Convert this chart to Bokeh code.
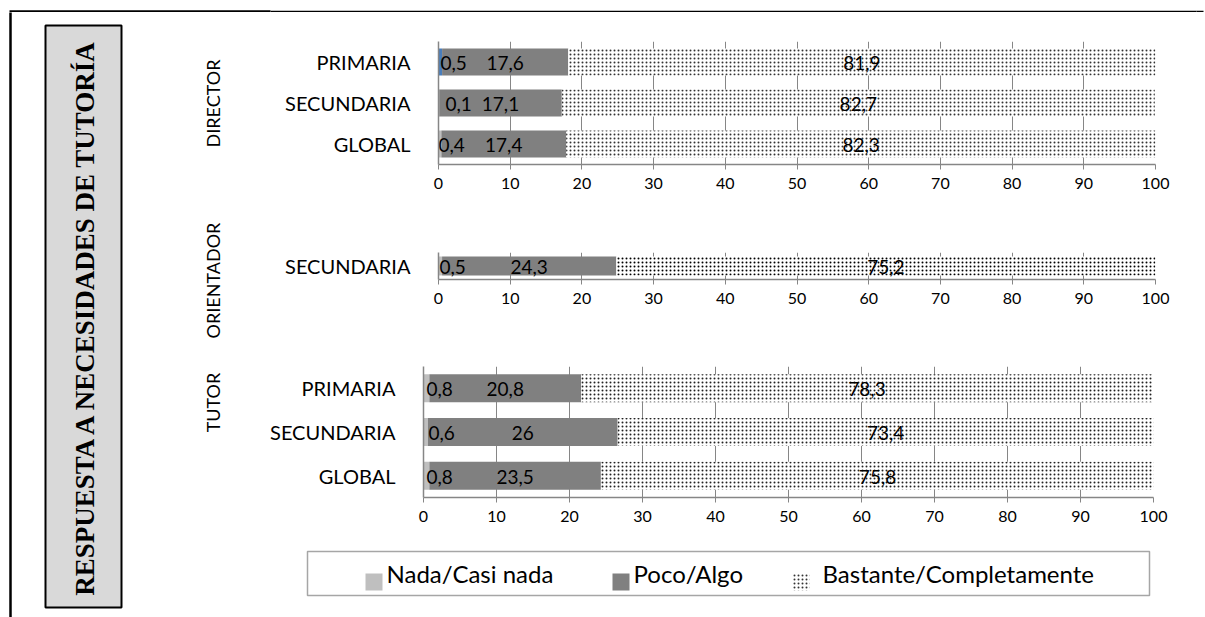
import numpy as np
from bokeh.plotting import figure
from bokeh.models import Range1d, FactorRange, FixedTicker, ColumnDataSource
from bokeh.layouts import column, row
from bokeh.embed import file_html
from bokeh.resources import INLINE
from bokeh.core.properties import value

# ---- data -----------------------------------------------------------------
title_text = "RESPUESTA A NECESIDADES DE TUTORÍA"
group_names = ["DIRECTOR", "ORIENTADOR", "TUTOR"]
series_names = ["Nada/Casi nada", "Poco/Algo", "Bastante/Completamente"]
x_ticks = [0, 10, 20, 30, 40, 50, 60, 70, 80, 90, 100]

dir_levels = ["PRIMARIA", "SECUNDARIA", "GLOBAL"]
dir_nada = [0.5, 0.1, 0.4]
dir_poco = [17.6, 17.1, 17.4]
dir_bast = [81.9, 82.7, 82.3]

ori_levels = ["SECUNDARIA"]
ori_nada = [0.5]
ori_poco = [24.3]
ori_bast = [75.2]

tut_levels = ["PRIMARIA", "SECUNDARIA", "GLOBAL"]
tut_nada = [0.8, 0.6, 0.8]
tut_poco = [20.8, 26.0, 23.5]
tut_bast = [78.3, 73.4, 75.8]

# ---- styling --------------------------------------------------------------
SANS = "Lato"
NADA_COLOR = "#bfbfbf"
POCO_COLOR = "#808080"
AXIS_COLOR = "#868686"
W, H = 1205, 617
LEFT_W = 248


def fmt(v):
    return f"{v:g}".replace(".", ",")


def bar_chart(levels, nada, poco, bast, nada_colors, nada_dx, fig_h,
              b_left, b_right, b_top, b_bottom, bar_h, dots):
    nada = np.asarray(nada, dtype=float)
    poco = np.asarray(poco, dtype=float)
    bast = np.asarray(bast, dtype=float)
    n1 = nada
    p1 = nada + poco
    b1 = nada + poco + bast

    p = figure(width=W - LEFT_W, height=fig_h,
               y_range=FactorRange(factors=list(levels)[::-1]),
               x_range=Range1d(0, 100),
               output_backend="svg", toolbar_location=None,
               min_border_left=b_left, min_border_right=b_right,
               min_border_top=b_top, min_border_bottom=b_bottom)
    p.frame_align = False
    p.outline_line_color = None
    p.background_fill_color = "white"
    p.border_fill_color = "white"

    src = ColumnDataSource(dict(
        cat=list(levels), n1=n1, p1=p1, b1=b1, ncol=list(nada_colors),
        pmid=(n1 + p1) / 2, bmid=(p1 + b1) / 2,
        nlab=[fmt(v) for v in nada], plab=[fmt(v) for v in poco],
        blab=[fmt(v) for v in bast], ndx=list(nada_dx),
        zero=[0.0] * len(levels),
    ))

    p.hbar(y="cat", left="zero", right="n1", height=bar_h, fill_color="ncol",
           line_color=None, source=src)
    p.hbar(y="cat", left="n1", right="p1", height=bar_h, fill_color=POCO_COLOR,
           line_color=None, source=src)
    p.hbar(y="cat", left="p1", right="b1", height=bar_h, fill_color="white",
           hatch_pattern=".", hatch_color=dots[0], hatch_scale=dots[1],
           hatch_weight=dots[2], line_color=None, source=src)

    lab = dict(text_font=value(SANS), text_font_size=value("19px"),
               text_color="black", text_baseline="middle", y_offset=1, source=src)
    p.text(x="zero", y="cat", text="nlab", x_offset="ndx", text_align="left", **lab)
    p.text(x="pmid", y="cat", text="plab", text_align="center", **lab)
    p.text(x="bmid", y="cat", text="blab", text_align="center", **lab)

    ticker = FixedTicker(ticks=x_ticks)
    xa = p.xaxis[0]
    xa.ticker = ticker
    xa.axis_line_color = AXIS_COLOR
    xa.axis_line_width = 1.5
    xa.major_tick_line_color = AXIS_COLOR
    xa.major_tick_out = 5
    xa.major_tick_in = 0
    xa.minor_tick_line_color = None
    xa.major_label_text_font = SANS
    xa.major_label_text_font_size = "16px"
    xa.major_label_text_color = "black"
    xa.major_label_standoff = 8

    ya = p.yaxis[0]
    ya.axis_line_color = AXIS_COLOR
    ya.axis_line_width = 1.5
    ya.major_tick_line_color = None
    ya.minor_tick_line_color = None
    ya.major_label_text_font = SANS
    ya.major_label_text_font_size = "20px"
    ya.major_label_text_color = "black"
    ya.major_label_standoff = 22

    p.ygrid.grid_line_color = None
    p.xgrid.ticker = ticker
    p.xgrid.grid_line_color = AXIS_COLOR
    p.xgrid.grid_line_width = 1
    return p


def canvas(w, h, x0, x1, y_top, y_bot):
    c = figure(width=w, height=h, x_range=Range1d(x0, x1),
               y_range=Range1d(y_bot, y_top), output_backend="svg",
               toolbar_location=None, x_axis_type=None, y_axis_type=None,
               min_border=0)
    c.frame_align = False
    c.min_border_left = c.min_border_right = 0
    c.min_border_top = c.min_border_bottom = 0
    c.outline_line_color = None
    c.grid.visible = False
    c.background_fill_color = "white"
    c.border_fill_color = "white"
    return c


# ---- frame line across the top --------------------------------------------
top = canvas(W, 12, 0, W, 0, 12)
top.segment(x0=[9], y0=[11], x1=[270], y1=[11], line_color="black", line_width=2.5)
top.segment(x0=[270], y0=[11], x1=[1196], y1=[11], line_color="black", line_width=1.3)
top.segment(x0=[1196], y0=[11.5], x1=[1203], y1=[11.5], line_color="black", line_width=2.5)

# ---- left panel: frame, boxed title, group names ---------------------------
left = canvas(LEFT_W, H - 12, 0, LEFT_W, 12, H)
left.segment(x0=[10], y0=[10], x1=[10], y1=[H + 2], line_color="black", line_width=2.5)
left.quad(left=[45], right=[121], top=[25], bottom=[607], fill_color="#d9d9d9",
          line_color="black", line_width=2)
left.text(x=[84], y=[316], text=[title_text], angle=np.pi / 2,
          text_align="center", text_baseline="middle",
          text_font=value("Liberation Serif"), text_font_style="bold",
          text_font_size=value("27px"), text_color="black")
left.text(x=[212, 212, 212], y=[103, 280, 402], text=group_names, angle=np.pi / 2,
          text_align="center", text_baseline="middle", text_font=value(SANS),
          text_font_size=value("18px"), text_color="black")

# ---- the three bar charts --------------------------------------------------
p_dir = bar_chart(dir_levels, dir_nada, dir_poco, dir_bast,
                  ["#4a7ebb", NADA_COLOR, NADA_COLOR], [2, 7, 0],
                  188, 190, 50, 29, 36, 0.66, ("#333333", 4, 2.2))
p_ori = bar_chart(ori_levels, ori_nada, ori_poco, ori_bast,
                  [NADA_COLOR], [1],
                  120, 190, 50, 52, 41, 0.7, ("black", 4, 3))
p_tut = bar_chart(tut_levels, tut_nada, tut_poco, tut_bast,
                  [NADA_COLOR, NADA_COLOR, NADA_COLOR], [3, 5, 3],
                  225, 175, 52, 46, 48, 0.64, ("#222222", 4, 2.4))

# ---- legend ----------------------------------------------------------------
leg = canvas(W - LEFT_W, 72, LEFT_W, W, 545, H)
leg.quad(left=[307], right=[1149], top=[551], bottom=[595], fill_color="white",
         line_color="#a6a6a6", line_width=1.5)
leg.quad(left=[365], right=[382], top=[573], bottom=[590], fill_color=NADA_COLOR,
         line_color=None)
leg.quad(left=[612], right=[629], top=[573], bottom=[590], fill_color=POCO_COLOR,
         line_color=None)
leg.quad(left=[792], right=[809], top=[573], bottom=[590], fill_color="white",
         hatch_pattern=".", hatch_color="#333333", hatch_scale=4, hatch_weight=2.2,
         line_color=None)
leg.text(x=[386, 633, 822], y=[573, 573, 573], text=series_names,
         text_align="left", text_baseline="middle", text_font=value(SANS),
         text_font_size=value("24px"), text_color="black")

layout = column(top, row(left, column(p_dir, p_ori, p_tut, leg)))

open("out.html", "w").write(file_html(layout, INLINE))
